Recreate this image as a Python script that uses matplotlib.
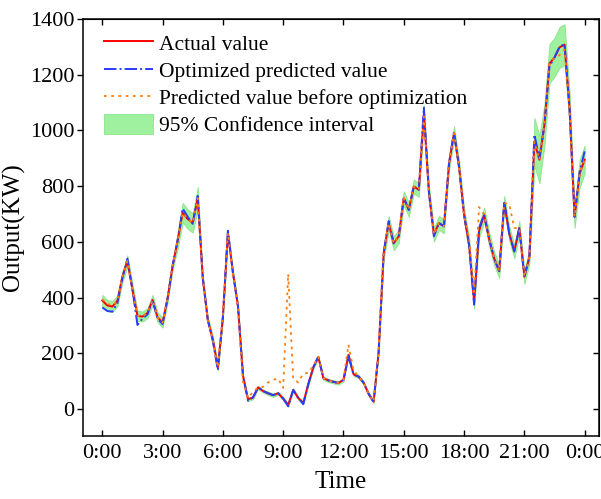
"""Daily PV output: measured values vs. predictions before/after optimization."""
import numpy as np
import matplotlib
matplotlib.use("Agg")
import matplotlib.pyplot as plt

# 15-min samples over one day (index 0 = 0:00, index 96 = next 0:00)
actual = [
    390, 372, 368, 388, 475, 532, 430, 335, 332, 345, 392, 330, 310, 398, 515, 605,
    705, 682, 668, 757, 470, 320, 250, 150, 330, 632, 490, 370, 120, 35, 42, 78,
    65, 57, 50, 57, 38, 15, 69, 40, 22, 90, 150, 187, 111, 103, 98, 94,
    105, 195, 125, 117, 95, 55, 27, 205, 560, 668, 595, 620, 757, 715, 799, 787,
    1060, 780, 626, 668, 656, 880, 990, 870, 698, 590, 386, 640, 698, 610, 540, 495,
    740, 630, 566, 650, 475, 545, 960, 895, 1020, 1240, 1262, 1298, 1308, 1080, 690, 845,
    895,
]
optimized = [
    365, 352, 350, 380, 470, 540, 430, 302, 325, 340, 392, 325, 305, 398, 515, 605,
    720, 690, 665, 765, 470, 320, 245, 140, 330, 640, 490, 370, 120, 30, 42, 78,
    65, 57, 50, 57, 38, 10, 69, 40, 18, 90, 150, 190, 111, 103, 98, 94,
    105, 190, 125, 117, 95, 55, 25, 205, 560, 675, 595, 620, 760, 715, 799, 787,
    1082, 780, 620, 668, 656, 880, 995, 870, 698, 590, 375, 650, 698, 610, 540, 495,
    745, 630, 566, 650, 475, 545, 985, 900, 1020, 1230, 1262, 1300, 1310, 1080, 690, 850,
    925,
]
before_opt = [
    395, 378, 372, 388, 475, 532, 430, 335, 332, 345, 392, 330, 310, 398, 515, 605,
    705, 682, 668, 757, 470, 320, 250, 150, 330, 632, 490, 370, 99, 40, 62, 78,
    80, 96, 105, 110, 76, 485, 108, 96, 128, 130, 155, 187, 111, 103, 98, 94,
    105, 231, 140, 117, 95, 55, 27, 205, 560, 668, 595, 620, 757, 715, 799, 787,
    1050, 780, 626, 668, 656, 880, 990, 870, 698, 610, 420, 725, 698, 610, 540, 495,
    740, 735, 650, 650, 475, 545, 960, 895, 1020, 1240, 1262, 1270, 1290, 1080, 690, 845,
    895,
]
# half-width of the 95% confidence band
ci_half = [
    20, 20, 20, 20, 20, 20, 20, 18, 18, 18, 18, 18, 18, 15, 15, 30,
    35, 35, 35, 40, 12, 12, 12, 12, 12, 12, 12, 12, 6, 6, 6, 6,
    6, 6, 6, 6, 6, 6, 6, 6, 6, 6, 6, 6, 6, 6, 6, 6,
    6, 6, 6, 6, 6, 6, 6, 6, 25, 25, 25, 25, 25, 25, 25, 25,
    30, 25, 25, 25, 25, 25, 25, 25, 25, 25, 25, 25, 25, 25, 25, 25,
    25, 25, 25, 25, 25, 25, 85, 85, 75, 70, 70, 73, 73, 60, 40, 50,
    50,
]
tick_pos = [0, 12, 24, 36, 48, 60, 72, 84, 96]
tick_labels = ["0:00", "3:00", "6:00", "9:00", "12:00", "15:00", "18:00", "21:00", "0:00"]

plt.rcParams["font.family"] = ["Liberation Serif", "DejaVu Serif"]

x = np.arange(len(actual))
act = np.array(actual, dtype=float)
half = np.array(ci_half, dtype=float)

fig = plt.figure(figsize=(6.01, 4.99), dpi=100)
ax = fig.add_axes([0.138, 0.127, 0.859, 0.835])

band = ax.fill_between(x, act - half, act + half, facecolor="#9ff09f", edgecolor="#8de48d",
                       linewidth=0.6, label="95% Confidence interval", zorder=1)
l_act, = ax.plot(x, actual, color="red", lw=1.4, label="Actual value", zorder=2)
l_opt, = ax.plot(x, optimized, color="#2a3cff", lw=1.4, ls="-.",
                 label="Optimized predicted value", zorder=3)
l_pre, = ax.plot(x, before_opt, color="#ff7f0e", lw=1.3, ls=(0, (1.5, 2.5)),
                 label="Predicted value before optimization", zorder=4)

ax.set_xlim(-3.85, 98.9)
ax.set_ylim(-95, 1400)
ax.set_yticks(range(0, 1401, 200))
ax.set_xticks(tick_pos)
ax.set_xticklabels(tick_labels)

for s in ax.spines.values():
    s.set_linewidth(1.1)
ax.tick_params(axis="y", which="both", direction="out", length=4, width=1, labelsize=16, pad=2)
ax.tick_params(axis="x", which="both", direction="in", length=4, width=1, labelsize=16, pad=6)
# mirrored, unlabeled ticks on top/right
top = ax.secondary_xaxis("top")
top.set_xticks(tick_pos)
top.tick_params(direction="in", length=4, width=1, labeltop=False)
right = ax.secondary_yaxis("right")
right.set_yticks(range(0, 1401, 200))
right.tick_params(direction="in", length=4, width=1, labelright=False)

ax.set_xlabel("Time", fontsize=18, labelpad=6)
ax.set_ylabel("Output(KW)", fontsize=18, labelpad=4)

ax.legend(handles=[l_act, l_opt, l_pre, band], loc="upper left",
          bbox_to_anchor=(0.008, 1.008), frameon=False, fontsize=15.5,
          handlelength=2.25, handleheight=1.0, handletextpad=0.3,
          labelspacing=0.24, borderaxespad=0.4)

fig.savefig("out.png", dpi=100)
